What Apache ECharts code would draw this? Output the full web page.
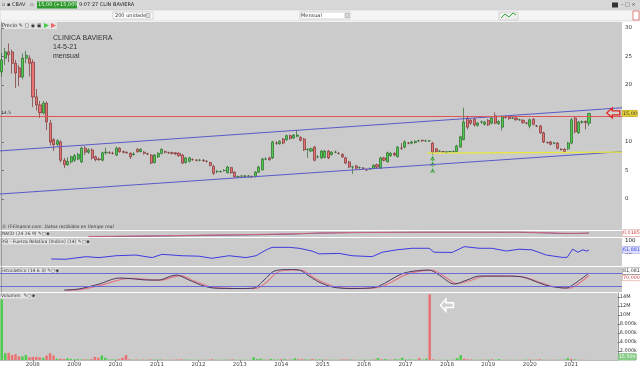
<!DOCTYPE html>
<html><head><meta charset="utf-8">
<script src="https://cdn.jsdelivr.net/npm/echarts@6/dist/echarts.min.js"></script>
<style>html,body{margin:0;padding:0;background:#fff}#c{width:640px;height:369px}</style>
</head><body><div id="c"></div>
<script>
// ---- data (monthly, Apr 2007 .. May 2021) ----
const firstYear = 2007, firstMonth = 4, nSlots = 179, lastLabelYear = 2021;
const open = [22.3,24.7,25.8,25.8,23.8,23.0,21.4,24.7,24.7,24.0, 17.9,16.5,15.1,16.8,13.3,10.4,9.6,10.0,6.8,6.0, 6.5,6.8,7.0,6.5,8.9,8.2,8.6,7.4,7.0,6.8, 8.1,8.1,8.0,7.7,8.9,8.3,8.2,8.0,7.8,8.7, 8.3,8.2,7.9,7.7,6.4,7.4,8.0,8.3,8.1,8.1, 8.1,8.0,7.7,6.4,6.6,6.9,6.8,6.8,6.8,6.6, 6.4,5.7,4.8,4.8,5.0,4.6,5.5,4.7,3.9,4.0, 4.0,4.0,3.9,3.9,4.7,5.1,7.0,7.2,7.2,9.8, 9.7,10.5,10.4,11.1,10.7,11.0,10.8,10.5,8.7,8.4, 9.1,7.4,7.2,7.3,8.4,7.8,8.2,8.0,7.8,7.2, 6.5,5.6,5.8,5.5,5.4,5.1,5.3,5.4,6.0,5.4, 7.2,6.5,7.6,8.0,7.4,8.9,9.1,9.8,9.8,9.9, 10.2,10.3,10.2,10.2,9.8,8.8,8.4,8.3,8.1,8.3, 8.3,8.3,9.1,10.4,14.2,13.8,14.0,12.9,13.5,13.1, 13.8,13.3,14.6,13.2,12.6,14.3,14.4,14.2,14.2,13.9, 13.8,13.3,12.8,14.0,12.8,12.8,11.6,9.9,10.0,9.8, 9.8,8.7,8.7,8.8,9.8,14.2,11.6,13.5,13.6,13.3];
const close = [24.4,25.8,25.3,23.8,22.1,21.4,24.7,25.2,23.8,17.9, 16.5,15.1,16.8,13.5,10.0,9.5,10.2,6.8,6.0,6.6, 7.4,7.6,7.8,8.9,8.2,8.6,7.2,6.9,6.9,8.1, 8.2,8.1,8.0,8.9,8.3,8.2,8.1,7.4,7.9,8.3, 8.7,8.0,7.9,6.3,7.7,8.0,8.7,8.2,8.1,8.0, 7.9,7.6,6.3,7.2,7.2,6.9,6.8,6.8,6.7,6.6, 5.9,4.5,4.8,4.8,5.0,5.6,4.6,3.9,3.9,4.0, 4.0,4.0,3.9,4.7,5.6,7.0,7.0,6.9,10.0,9.8, 10.1,9.8,11.1,10.6,11.2,11.2,10.3,8.6,8.7,8.8, 6.8,7.4,8.4,8.4,7.2,8.2,8.2,8.0,7.4,6.3, 5.6,5.6,5.4,5.5,5.4,5.1,5.3,5.9,5.6,7.2, 6.8,8.1,8.0,7.7,9.1,8.9,10.0,9.8,10.0,10.1, 10.2,10.2,10.2,10.2,8.2,8.3,8.4,8.3,8.3,8.3, 8.3,9.3,10.9,13.5,12.6,13.3,13.0,13.3,13.5,13.5, 13.0,14.2,13.3,13.6,14.4,14.3,14.1,14.2,13.9,13.9, 13.4,13.3,13.9,13.1,12.8,11.6,10.0,9.9,9.6,9.8, 8.9,8.7,8.3,9.8,13.9,11.8,13.5,13.5,13.4,15.0];
const low = [21.4,23.5,24.0,22.0,19.5,19.8,21.0,23.8,21.5,16.1, 15.5,14.2,14.8,12.1,9.4,8.4,9.2,6.4,5.4,5.8, 6.2,6.5,6.8,6.3,7.7,7.9,6.9,6.6,6.7,6.6, 7.8,7.9,7.8,7.5,8.1,8.0,7.9,7.0,7.6,8.1, 8.2,7.8,7.7,6.1,6.2,7.2,7.8,8.0,7.9,7.8, 7.7,7.4,6.1,6.2,6.4,6.7,6.6,6.6,6.5,6.4, 5.7,4.2,4.5,4.6,4.8,4.5,4.4,3.7,3.7,3.8, 3.8,3.8,3.7,3.8,4.6,5.0,6.8,6.7,7.0,9.5, 9.5,9.6,10.2,10.4,10.5,10.8,10.1,8.4,7.2,8.2, 6.6,7.1,7.0,7.1,7.0,7.6,8.0,7.8,7.2,6.1, 5.4,4.4,5.2,5.3,5.2,4.9,5.1,5.3,5.4,5.3, 6.6,6.4,7.4,7.5,7.3,8.6,8.9,9.6,9.6,9.7, 10.0,10.0,10.0,10.0,8.0,8.1,8.2,8.1,8.0,8.2, 8.2,8.2,9.0,10.3,12.2,13.0,12.7,12.7,13.2,12.9, 12.8,13.1,13.1,13.0,12.0,14.1,13.9,14.0,13.7,13.7, 13.2,13.1,12.4,12.9,12.6,11.4,9.8,9.7,9.4,9.6, 8.7,8.5,8.1,8.6,9.6,11.5,11.4,13.2,12.2,12.8];
const high = [25.6,26.5,27.3,26.2,24.4,23.5,25.5,26.0,25.2,24.5, 19.3,17.2,17.2,17.1,13.9,10.7,10.5,10.3,7.2,7.3, 7.6,7.9,8.1,9.2,9.3,8.9,8.9,7.6,7.3,8.3, 9.0,8.4,8.3,9.2,9.1,8.5,8.3,8.2,8.2,8.9, 8.9,8.4,8.1,7.9,7.9,8.2,8.9,8.5,8.3,8.3, 8.2,8.2,7.9,7.4,7.4,7.1,7.0,7.0,7.0,6.8, 6.5,6.0,5.1,5.0,5.2,5.8,5.6,4.8,4.1,4.2, 4.2,4.2,4.1,4.9,5.8,7.2,7.3,7.4,10.2,10.1, 10.3,10.7,11.3,11.3,11.4,12.1,11.0,10.7,8.9,9.0, 9.3,7.7,8.6,8.6,8.6,8.4,8.5,8.2,8.0,7.4, 6.7,5.8,6.0,5.7,5.6,5.3,5.5,6.1,6.2,7.4, 7.4,8.3,8.2,8.2,9.3,9.8,10.3,10.0,10.2,10.3, 10.4,10.4,10.4,10.3,10.0,8.9,8.5,8.4,8.4,8.4, 8.5,9.5,11.1,16.0,14.6,14.0,14.3,13.5,13.8,13.7, 14.0,14.4,15.2,13.8,14.6,14.5,14.6,14.4,14.4,14.1, 14.0,13.5,14.1,14.2,13.0,13.0,11.8,10.1,10.2,10.0, 10.0,8.9,8.9,10.0,14.2,14.4,13.7,13.8,13.8,15.1];
// volume in millions of shares
const volume = [13.5,1.5,1.6,1.1,1.3,0.8,0.8,1.1,0.6,0.7, 0.7,0.6,0.5,1.0,1.5,1.0,0.3,0.25,0.2,0.4, 0.25,0.15,0.2,0.12,0.15,0.1,0.2,0.7,0.5,1.0, 0.5,0.12,0.15,0.1,0.2,0.5,1.1,0.15,0.08,0.1, 0.08,0.1,0.06,0.15,0.1,0.08,0.12,0.06,0.05,0.06, 0.08,0.1,0.15,0.1,0.08,0.05,0.05,0.04,0.06,0.05, 0.1,0.15,0.06,0.05,0.05,0.1,0.08,0.12,0.05,0.04, 0.05,0.04,0.05,0.6,0.2,0.3,0.1,0.08,0.25,0.1, 0.12,0.15,0.2,0.1,0.12,0.4,0.15,0.2,0.15,0.1, 0.2,0.1,0.12,0.1,0.12,0.08,0.06,0.05,0.08,0.12, 0.15,0.1,0.08,0.05,0.05,0.06,0.05,0.08,0.1,0.45, 0.15,0.2,0.1,0.08,0.2,0.12,0.5,0.1,0.12,0.1, 0.08,0.4,0.1,0.3,14.6,0.15,0.05,0.04,0.05,0.03, 0.04,0.1,0.4,1.1,0.3,0.15,0.12,0.08,0.05,0.06, 0.08,0.1,0.15,0.06,0.2,0.05,0.06,0.04,0.05,0.04, 0.05,0.04,0.08,0.1,0.05,0.1,0.15,0.05,0.06,0.04, 0.08,0.05,0.06,0.1,0.4,0.2,0.12,0.05,0.06,0.0155];
// indicators: [month index, value]
const macdLine = [[25,-0.9],[40,-0.75],[60,-0.45],[80,-0.1],[95,0.35],[110,0.5],[130,0.55],[145,0.55],[155,0.4],[163,0.15],[169,0.3]];
const macdSignal = [[25,-0.8],[40,-0.65],[60,-0.35],[80,0.0],[95,0.4],[110,0.55],[130,0.6],[145,0.6],[155,0.5],[163,0.25],[169,0.25]];
const rsi = [[14.2,23],[18.5,22],[24.3,33],[28,29],[32.9,37],[38.6,40],[43.3,29],[46.1,43],[51.9,37],[56.8,35],[60.5,26],[65.4,37],[70.3,29],[73.2,37],[76.1,62],[77.8,73],[82.7,73],[85.6,69],[89.3,57],[91.3,45],[97.1,47],[100.8,37],[106.6,33],[109.5,52],[113.5,62],[118.1,69],[123,69],[124.4,52],[129.6,51],[133.1,76],[137.4,69],[141.1,69],[145.2,57],[148.9,65],[152.6,62],[156.7,40],[161.3,30],[162.7,30],[164.3,65],[165.8,52],[167.2,62],[168.4,57],[169,61.9]];
const stochK = [[17.9,5],[22.2,10],[28,32],[33.8,59],[36.6,57],[42.4,50],[45.3,50],[48.7,68],[50.4,72],[53.9,50],[58.2,23],[61.1,14],[68.3,12],[72.6,14],[75.5,50],[78.4,90],[82.7,97],[85.6,95],[88.4,68],[91.3,41],[95.1,19],[100,12],[105.7,14],[108.6,23],[115,77],[118.7,90],[123,95],[125.9,72],[130.2,32],[133.9,50],[137.4,68],[144.6,68],[149.8,64],[154.7,37],[157.5,23],[162.4,14],[164.7,32],[169,81.081]];
const stochD = [[18.5,4],[23,8],[29,28],[35,55],[38,57],[43,51],[46,50],[49.5,64],[51.5,70],[55,48],[59.5,22],[62,15],[69,12],[73.5,14],[76.5,45],[79.5,86],[83.5,95],[86.5,93],[89.5,64],[92.5,40],[96,20],[101,13],[106.5,14],[109.5,21],[116,72],[119.5,88],[124,93],[127,70],[131,34],[135,48],[138.5,66],[145.5,67],[150.5,62],[155.5,36],[158.5,22],[163.5,14],[165.5,28],[169,70]];
// drawn annotations (trend channel, support, resistance) in [month index, price]
const channelUpper = [[-0.8,8.42],[178.5,16.0]];
const channelLower = [[-0.8,0.85],[178.5,8.3]];
const supportLine = [[122.5,8.05],[178.5,8.2]];
const resistance = 14.5;
const arrowMonth = 124, arrowPrices = [7.6,6.6,5.4];
const priceTicks = [0,5,10,15,20,25,30];
const volTicks = [2,4,6,8,10,12,14];
const macdLastLabel = '0,0185', rsiLast = 61.881, kLast = 81.081, dLast = 70.0;
const titleLines = ['CLINICA BAVIERA','14-5-21','mensual'];

const categories = [];
for (let i = 0; i < nSlots; i++) {
  const m = firstMonth - 1 + i;
  categories.push((firstYear + Math.floor(m / 12)) + '-' + String(m % 12 + 1).padStart(2, '0'));
}
const isYearStart = (i, v) => v.endsWith('-01') && +v.slice(0, 4) <= lastLabelYear;
const GREEN = '#4fcc4f', RED = '#ea7272';
const candles = open.map((o, i) => [o, close[i], low[i], high[i]]);
const volData = volume.map((v, i) => ({ value: v, itemStyle: { color: close[i] >= open[i] ? GREEN : RED } }));
const lastClose = close[close.length - 1];
const fmtEs = (v, d) => v.toFixed(d).replace('.', ',');
const arrowPath = 'path://M0,5L5,0L5,3L12,3L12,7L5,7L5,10Z';
const F = 'DejaVu Sans';
const bg = '#cbcbcb';
const INVIS = { color: 'rgba(0,0,0,0)', width: 0.1 };
const gridBase = { left: 0, width: 622, show: true, backgroundColor: bg, borderWidth: 0 };
const hiddenVal = gi => ({ type: 'value', gridIndex: gi, min: -0.5, max: nSlots - 0.5, show: false });
const rightAxis = (gi, min, max, extra) => Object.assign({
  gridIndex: gi, position: 'right', min: min, max: max,
  axisLine: { show: true, lineStyle: { color: '#9a9a9a', width: 1 } },
  axisTick: { show: false }, splitLine: { show: false },
  axisLabel: { show: false }
}, extra);
const boxLabel = (text, color, bgc, border, dy) => ({
  show: true, position: 'end', formatter: text, fontSize: 4.8, fontFamily: F, color: color,
  backgroundColor: bgc, borderColor: border, borderWidth: 0.5, padding: [1, 0.5, 0, 0.5], distance: 0.5,
  offset: [0, dy || 0]
});

const graphic = [
  { type: 'rect', shape: { x: 0, y: 0, width: 640, height: 10 }, style: { fill: '#d8d8d8' } },
  { type: 'rect', shape: { x: 0, y: 10, width: 640, height: 11 }, style: { fill: '#f4f4f4', stroke: '#c4c4c4', lineWidth: 0.5 } },
  { type: 'text', x: 2, y: 5, style: { text: '\u25AB \u25AA CBAV   \u25AB', font: '5px "' + F + '"', fill: '#333', verticalAlign: 'middle' } },
  { type: 'rect', shape: { x: 37, y: 1.5, width: 40, height: 7 }, style: { fill: '#2f982f' } },
  { type: 'text', x: 38, y: 5, style: { text: '15,00 (+15,00%)', font: '5px "' + F + '"', fill: '#e8ffe8', verticalAlign: 'middle' } },
  { type: 'text', x: 79, y: 5, style: { text: '9:07:27 CLIN BAVIERA', font: '5px "' + F + '"', fill: '#222', verticalAlign: 'middle' } },
  { type: 'rect', shape: { x: 612, y: 2.5, width: 6, height: 5 }, style: { fill: '#333' } },
  { type: 'text', x: 621, y: 5, style: { text: '\u2013 \u25A1 \u00D7', font: '5px "' + F + '"', fill: '#444', verticalAlign: 'middle' } },
  { type: 'rect', shape: { x: 113, y: 12, width: 40, height: 7 }, style: { fill: '#fff', stroke: '#aaa', lineWidth: 0.5 } },
  { type: 'text', x: 115, y: 15.5, style: { text: '200 unidades', font: '5px "' + F + '"', fill: '#333', verticalAlign: 'middle' } },
  { type: 'rect', shape: { x: 146, y: 13.5, width: 4, height: 4 }, style: { fill: '#ddd', stroke: '#888', lineWidth: 0.5 } },
  { type: 'rect', shape: { x: 300, y: 12, width: 50, height: 7 }, style: { fill: '#fff', stroke: '#aaa', lineWidth: 0.5 } },
  { type: 'text', x: 301, y: 15.5, style: { text: 'Mensual', font: '5px "' + F + '"', fill: '#333', verticalAlign: 'middle' } },
  { type: 'rect', shape: { x: 345, y: 13.5, width: 4, height: 4 }, style: { fill: '#ddd', stroke: '#888', lineWidth: 0.5 } },
  { type: 'rect', shape: { x: 499, y: 12, width: 19, height: 8 }, style: { fill: '#eee', stroke: '#bbb', lineWidth: 0.5 } },
  { type: 'polyline', shape: { points: [[501, 18], [505, 14], [509, 17], [513, 13], [516, 15]] }, style: { stroke: '#3a3', lineWidth: 1 } },
  { type: 'rect', shape: { x: 633, y: 11, width: 6, height: 9 }, style: { fill: '#fff', stroke: '#c33', lineWidth: 0.6 } },
  { type: 'rect', shape: { x: 0, y: 22, width: 57, height: 7 }, style: { fill: '#e2e2e2' } },
  { type: 'text', x: 2, y: 25.5, style: { text: 'Precio \u270E \u25A2 \u25C9 \u25A3', font: '5px "' + F + '"', fill: '#333', verticalAlign: 'middle' } },
  { type: 'polygon', shape: { points: [[44, 23], [49, 25.5], [44, 28]] }, style: { fill: '#4c4' } },
  { type: 'polygon', shape: { points: [[51, 23], [56, 25.5], [51, 28]] }, style: { fill: '#e66' } },
  { type: 'text', x: 53, y: 47, style: { text: titleLines.join('\n'), font: '7px "Liberation Sans"', lineHeight: 9, fill: '#333', verticalAlign: 'middle' } },
  { type: 'text', x: 2, y: 226.5, style: { text: '\u00A9 IT-Finance.com  Datos recibidos en tiempo real', font: 'italic 4.5px "' + F + '"', fill: '#333', verticalAlign: 'middle' } },
  { type: 'text', x: 1, y: 234, style: { text: 'MACD (24 26 9) \u270E\u25A2\u25C9', font: '4.5px "' + F + '"', fill: '#333', backgroundColor: '#e4e4e4', verticalAlign: 'middle' } },
  { type: 'text', x: 1, y: 242, style: { text: 'RSI - Fuerza Relativa (Indice) (14) \u270E\u25A2\u25C9', font: '4.5px "' + F + '"', fill: '#333', backgroundColor: '#e4e4e4', verticalAlign: 'middle' } },
  { type: 'text', x: 1, y: 271, style: { text: 'Estoc\u00E1stico (14 6 3) \u270E\u25A2\u25C9', font: '4.5px "' + F + '"', fill: '#333', backgroundColor: '#e4e4e4', verticalAlign: 'middle' } },
  { type: 'text', x: 1, y: 296, style: { text: 'Volumen  \u270E\u25A2\u25C9', font: '4.5px "' + F + '"', fill: '#333', backgroundColor: '#e4e4e4', verticalAlign: 'middle' } }
];

const chart = echarts.init(document.getElementById('c'), null, { renderer: 'canvas' });
chart.setOption({
  animation: false,
  backgroundColor: '#ffffff',
  graphic: graphic,
  grid: [
    Object.assign({ top: 22, height: 208 }, gridBase),
    Object.assign({ top: 231, height: 6 }, gridBase),
    Object.assign({ top: 238, height: 28 }, gridBase),
    Object.assign({ top: 267, height: 25 }, gridBase),
    Object.assign({ top: 293, height: 67 }, gridBase)
  ],
  xAxis: [
    { type: 'category', gridIndex: 0, data: categories, show: false },
    hiddenVal(0), hiddenVal(1), hiddenVal(2), hiddenVal(3),
    { type: 'category', gridIndex: 4, data: categories,
      axisLine: { show: true, lineStyle: { color: '#bbb' } },
      axisTick: { show: true, length: 2, alignWithLabel: true, interval: isYearStart, lineStyle: { color: '#888' } },
      axisLabel: { interval: isYearStart, formatter: v => v.slice(0, 4), fontSize: 5.5, fontFamily: F, color: '#444', margin: 2 } }
  ],
  yAxis: [
    rightAxis(0, -5.45, 31.05, {
      axisTick: { show: true, length: 2, customValues: priceTicks, lineStyle: { color: '#666' } },
      axisLabel: { show: true, customValues: priceTicks, fontSize: 5.5, fontFamily: F, color: '#333', margin: 3 } }),
    rightAxis(1, -1, 1, {}),
    rightAxis(2, -7, 113, {
      axisLabel: { show: true, customValues: [50, 100], fontSize: 5.5, fontFamily: F, color: '#222', margin: 3 } }),
    rightAxis(3, -3.6, 108.4, {
      axisLabel: { show: true, customValues: [50], fontSize: 5.5, fontFamily: F, color: '#666', margin: 3 } }),
    rightAxis(4, 0, 14.9, {
      axisTick: { show: true, length: 2, customValues: volTicks, lineStyle: { color: '#666' } },
      axisLabel: { show: true, customValues: volTicks, fontSize: 5, fontFamily: F, color: '#333', margin: 2,
        formatter: v => v >= 10 ? v + 'M' : String(v * 1000).replace(/\B(?=(\d{3})+(?!\d))/g, '.') + 'k' } })
  ],
  series: [
    { type: 'candlestick', xAxisIndex: 0, yAxisIndex: 0, data: candles, barWidth: 2.6,
      itemStyle: { color: GREEN, color0: RED, borderColor: '#2b6a2b', borderColor0: '#7a3434', borderWidth: 0.7 },
      markLine: { silent: true, symbol: ['none', 'none'], data: [
        { yAxis: resistance, lineStyle: { color: '#e05454', width: 1, type: 'solid' },
          label: { show: true, position: 'insideStartTop', formatter: fmtEs(resistance, 1), fontSize: 4.5, fontFamily: F, color: '#333', distance: 1 } },
        { yAxis: lastClose, lineStyle: INVIS,
          label: boxLabel(fmtEs(lastClose, 2), '#333', '#e6d23c', '#b8a020') }
      ] },
      markPoint: { silent: true, data: [
        { coord: [176, 15.1], symbol: arrowPath, symbolSize: [13, 10],
          itemStyle: { color: 'rgba(255,255,255,0.15)', borderColor: '#e02424', borderWidth: 1.2 }, label: { show: false } }
      ] } },
    { type: 'line', xAxisIndex: 1, yAxisIndex: 0, data: channelUpper, symbol: 'none', lineStyle: { color: '#5a5ac8', width: 1 } },
    { type: 'line', xAxisIndex: 1, yAxisIndex: 0, data: channelLower, symbol: 'none', lineStyle: { color: '#5a5ac8', width: 1 } },
    { type: 'line', xAxisIndex: 1, yAxisIndex: 0, data: supportLine, symbol: 'none', lineStyle: { color: '#e8e83a', width: 1.2 } },
    { type: 'line', xAxisIndex: 1, yAxisIndex: 0, data: [[arrowMonth, arrowPrices[0] + 0.3], [arrowMonth, arrowPrices[2] - 0.4]], symbol: 'none', lineStyle: { color: '#2ea02e', width: 1, type: [1, 2] } },
    { type: 'scatter', xAxisIndex: 1, yAxisIndex: 0, data: arrowPrices.map(p => [arrowMonth, p]), symbol: 'arrow', symbolSize: [4, 5], itemStyle: { color: '#2ea02e' } },
    { type: 'line', xAxisIndex: 2, yAxisIndex: 1, data: macdLine, symbol: 'none', smooth: true, lineStyle: { color: '#6a4a9a', width: 1 },
      markLine: { silent: true, symbol: ['none', 'none'], data: [{ yAxis: macdLine[macdLine.length - 1][1], lineStyle: INVIS, label: boxLabel(macdLastLabel, '#d04040', '#fff', '#d08080') }] } },
    { type: 'line', xAxisIndex: 2, yAxisIndex: 1, data: macdSignal, symbol: 'none', smooth: true, lineStyle: { color: '#d06a7a', width: 1 } },
    { type: 'line', xAxisIndex: 3, yAxisIndex: 2, data: rsi, symbol: 'none', lineStyle: { color: '#3c3ce0', width: 1 },
      markLine: { silent: true, symbol: ['none', 'none'], data: [{ yAxis: rsiLast, lineStyle: INVIS, label: boxLabel(fmtEs(rsiLast, 3), '#3c3ce0', '#dde0ff', '#8888dd') }] } },
    { type: 'line', xAxisIndex: 4, yAxisIndex: 3, data: stochD, symbol: 'none', smooth: 0.3, lineStyle: { color: '#e07a86', width: 1.2 },
      markLine: { silent: true, symbol: ['none', 'none'], data: [
        { yAxis: 80, lineStyle: { color: '#6a6ad8', width: 1, type: 'solid' }, label: { show: false } },
        { yAxis: 20, lineStyle: { color: '#6a6ad8', width: 1, type: 'solid' }, label: { show: false } },
        { yAxis: dLast, lineStyle: INVIS, label: boxLabel(fmtEs(dLast, 3), '#d04040', '#fff', '#d08080', 2) }
      ] } },
    { type: 'line', xAxisIndex: 4, yAxisIndex: 3, data: stochK, symbol: 'none', smooth: 0.3, lineStyle: { color: '#4a3a66', width: 1 },
      markLine: { silent: true, symbol: ['none', 'none'], data: [{ yAxis: kLast, lineStyle: INVIS, label: boxLabel(fmtEs(kLast, 3), '#333', '#fff', '#777', -2) }] } },
    { type: 'bar', xAxisIndex: 5, yAxisIndex: 4, data: volData, barWidth: 2.5,
      markLine: { silent: true, symbol: ['none', 'none'], data: [{ yAxis: volume[volume.length - 1], lineStyle: INVIS,
        label: boxLabel(String(Math.round(volume[volume.length - 1] * 1e6)).replace(/\B(?=(\d{3})+(?!\d))/g, '.'), '#f4fff4', '#86cc86', '#6aa86a', -3) }] },
      markPoint: { silent: true, data: [
        { coord: [129, 12.2], symbol: arrowPath, symbolSize: [13, 12],
          itemStyle: { color: 'rgba(255,255,255,0.1)', borderColor: '#ffffff', borderWidth: 1.5 }, label: { show: false } }
      ] } }
  ]
});
</script>
</body></html>
